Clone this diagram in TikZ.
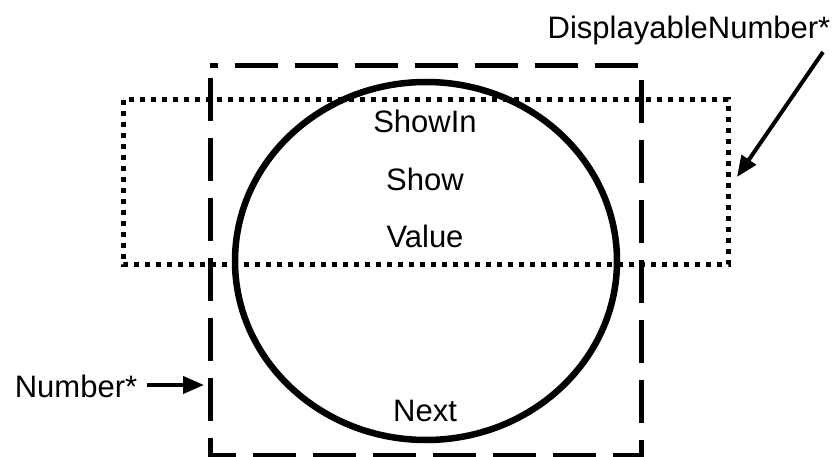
\documentclass[tikz,border=0pt]{standalone}
\usepackage{fontspec}
\setmainfont{Liberation Sans}
\usetikzlibrary{arrows.meta}
\begin{document}
\begin{tikzpicture}[x=1pt,y=-1pt,
  lbl/.style={anchor=base,inner sep=0pt,font=\fontsize{31}{36}\selectfont},
  numbox/.style={draw,line width=5pt,dash pattern=on 43pt off 17pt,dash phase=-12pt},
  dispbox/.style={draw,line width=5pt,dash pattern=on 5pt off 6pt},
  oval/.style={draw,line width=6.5pt},
  pointer/.style={line width=4pt,-{Triangle[length=21pt,width=17pt]}}]
\useasboundingbox (0,0) rectangle (836,457);
% dashed rectangle (Number*)
\draw[numbox] (210,66) rectangle (641,455);
% dotted rectangle (DisplayableNumber*)
\draw[dispbox] (123,100) rectangle (728,265);
% ellipse
\draw[oval] (426,261) ellipse [x radius=191, y radius=179];
% texts
\node[lbl] (showin) at (425,133) {ShowIn};
\node[lbl] (show) at (425,191) {Show};
\node[lbl] (value) at (425,248) {Value};
\node[lbl] (next) at (425,421) {Next};
\node[lbl] (disp) at (689,39) {DisplayableNumber*};
\node[lbl] (num) at (76,397) {Number*};
% arrows
\coordinate (dispstart) at (823,52);
\coordinate (disptip) at (737,177);
\coordinate (numstart) at (147,385);
\coordinate (numtip) at (204,385);
\draw[pointer] (dispstart) -- (disptip);
\draw[pointer] (numstart) -- (numtip);
\end{tikzpicture}
\end{document}
